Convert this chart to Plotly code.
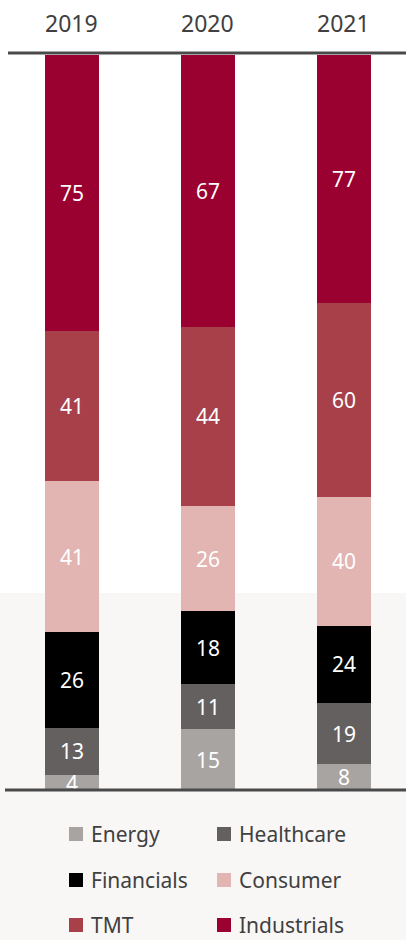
import plotly.graph_objects as go

years = ["2019", "2020", "2021"]
sectors = ["Energy", "Healthcare", "Financials", "Consumer", "TMT", "Industrials"]
energy = [4, 15, 8]
healthcare = [13, 11, 19]
financials = [26, 18, 24]
consumer = [41, 26, 40]
tmt = [41, 44, 60]
industrials = [75, 67, 77]
colors = ["#a8a4a2", "#656060", "#000000", "#e2b5b3", "#a8404a", "#9a0030"]

series = [energy, healthcare, financials, consumer, tmt, industrials]
totals = [sum(s[i] for s in series) for i in range(len(years))]

fig = go.Figure()
for name, vals, col in zip(sectors, series, colors):
    pct = [v / t * 100 for v, t in zip(vals, totals)]
    fig.add_trace(go.Bar(
        x=years, y=pct, name=name, marker=dict(color=col, line=dict(width=0)),
        text=[str(v) for v in vals], textposition="inside", insidetextanchor="middle",
        textangle=0, constraintext="none",
        textfont=dict(color="white", size=21, family="Noto Sans"),
        width=0.4, cliponaxis=True, hoverinfo="skip", showlegend=False,
    ))

W, H = 406, 940
top, bottom = 55, 790
ph = bottom - top

def py(pix):
    return (bottom - pix) / ph

def px(pix):
    return pix / W

shapes = [
    dict(type="rect", xref="paper", yref="paper", x0=-0.05, x1=1.05, y0=py(945), y1=py(593),
         fillcolor="#f8f7f6", line=dict(width=0), layer="below"),
    dict(type="line", xref="paper", yref="paper", x0=px(8), x1=1.0, y0=py(53), y1=py(53),
         line=dict(color="#4a4a4a", width=3), layer="above"),
    dict(type="line", xref="paper", yref="paper", x0=px(5), x1=1.0, y0=py(790), y1=py(790),
         line=dict(color="#4a4a4a", width=3), layer="above"),
]

annotations = [
    dict(x=i, y=py(23), xref="x", yref="paper", text=yr, showarrow=False,
         font=dict(size=23, color="#404040", family="Noto Sans"), yanchor="middle", xanchor="center")
    for i, yr in enumerate(years)
]

# manual legend, two columns
col_x = [69, 217]
row_y = [834, 880, 925]
for k, (name, col) in enumerate(zip(sectors, colors)):
    cx = col_x[k % 2]
    cy = row_y[k // 2]
    shapes.append(dict(type="rect", xref="paper", yref="paper",
                       x0=px(cx), x1=px(cx + 14), y0=py(cy + 7), y1=py(cy - 7),
                       fillcolor=col, line=dict(width=0), layer="above"))
    annotations.append(dict(x=px(cx + 20), y=py(cy), xref="paper", yref="paper", text=name,
                            showarrow=False, xanchor="left", yanchor="middle",
                            font=dict(size=21, color="#404040", family="Noto Sans")))

fig.update_layout(
    width=W, height=H, barmode="stack",
    margin=dict(l=0, r=0, t=top, b=H - bottom, pad=0),
    paper_bgcolor="white", plot_bgcolor="rgba(0,0,0,0)",
    xaxis=dict(type="category", range=[-0.529, 2.456], showticklabels=False, showgrid=False,
               zeroline=False, showline=False, fixedrange=True),
    yaxis=dict(range=[0, 100], showticklabels=False, showgrid=False, zeroline=False,
               showline=False, fixedrange=True),
    showlegend=False,
    shapes=shapes, annotations=annotations,
    uniformtext=dict(minsize=21, mode="show"),
)

fig.write_html("out.html")
